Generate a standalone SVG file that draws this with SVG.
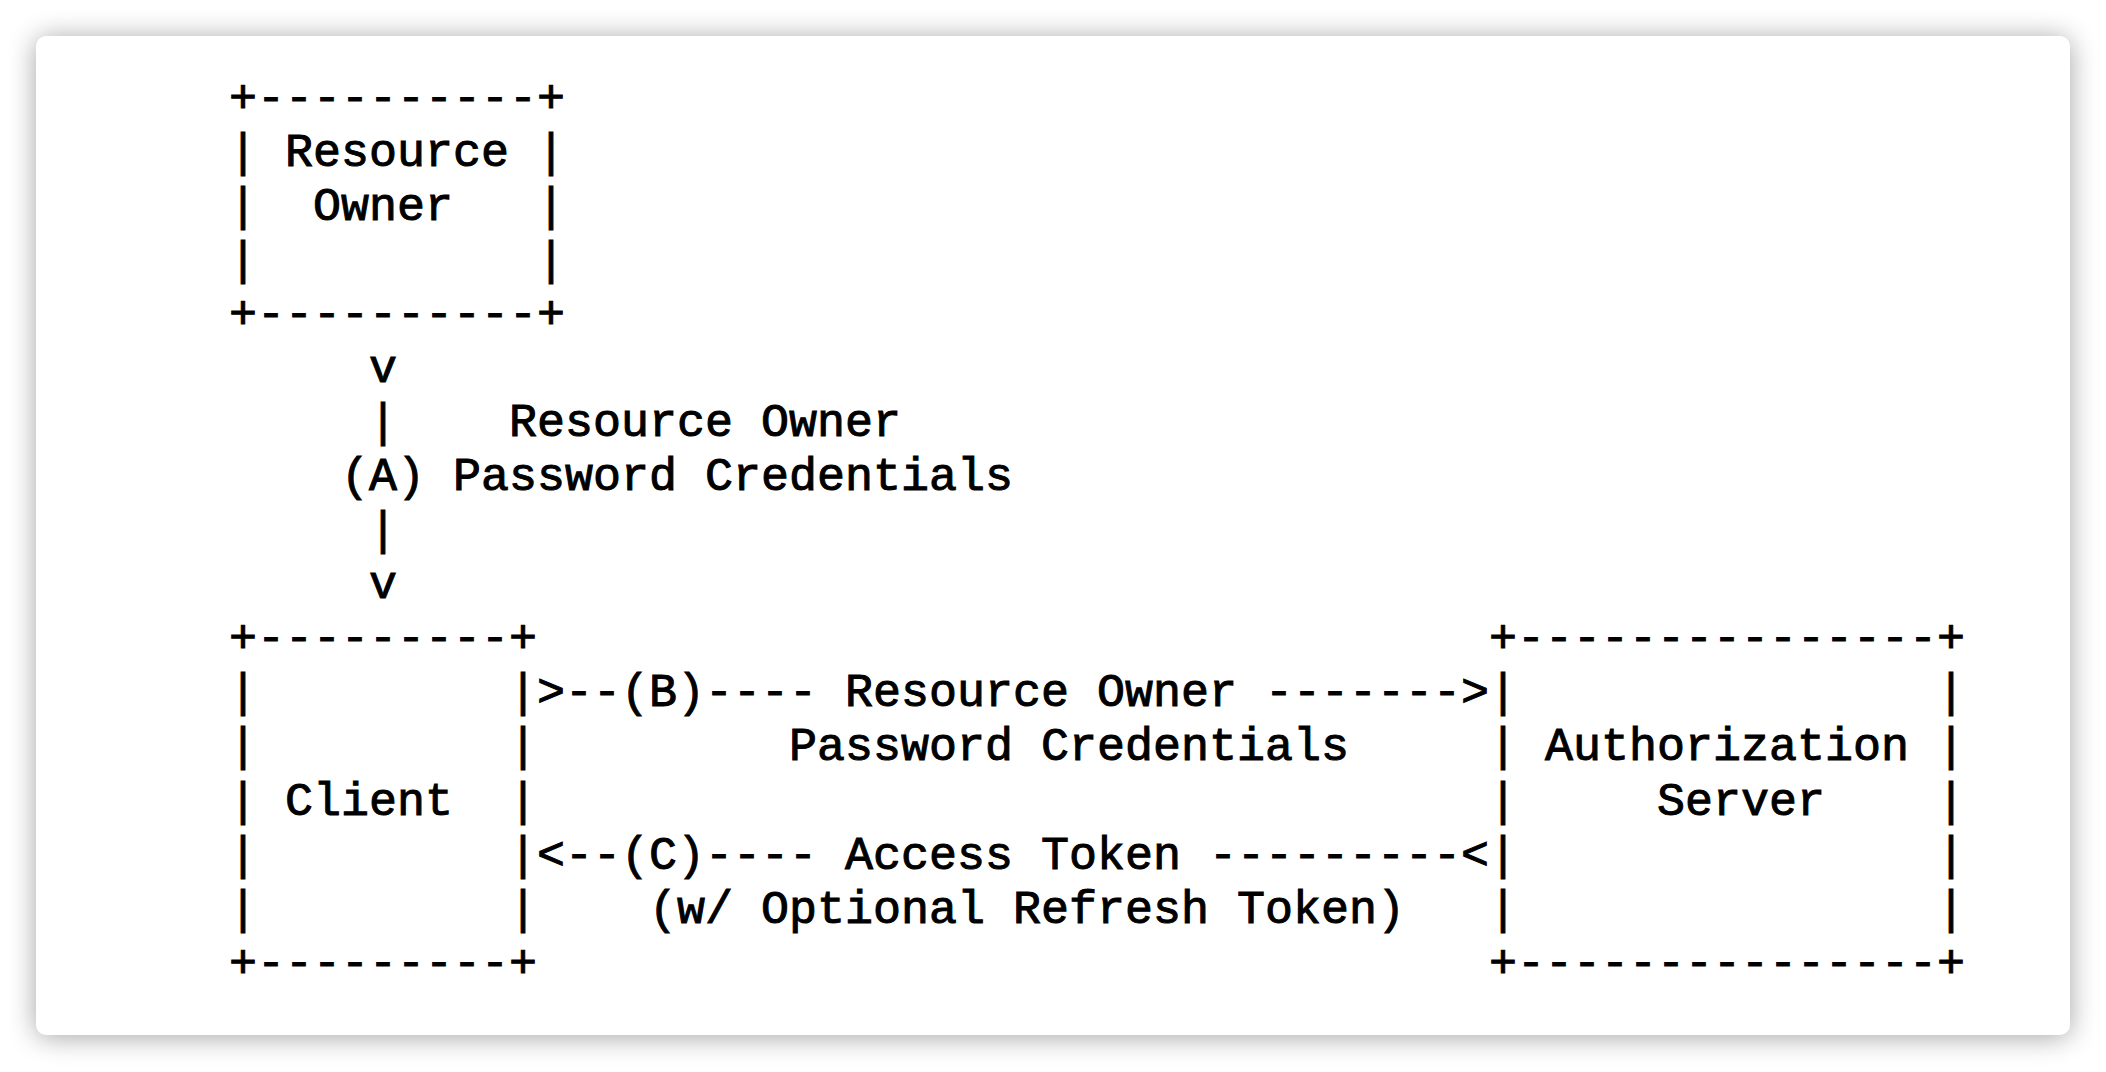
<svg xmlns="http://www.w3.org/2000/svg" width="2106" height="1072" viewBox="0 0 2106 1072">
  <style>
    .t { font-family: "Liberation Mono", "Courier New", monospace; font-size: 46.67px; fill: #000; stroke: #000; stroke-width: 1px; white-space: pre; }
  </style>
  <defs>
    <filter id="shadow" x="-10%" y="-10%" width="120%" height="120%">
      <feGaussianBlur stdDeviation="14"/>
    </filter>
  </defs>
  <rect x="0" y="0" width="2106" height="1072" fill="#ffffff"/>
  <rect x="36" y="38" width="2034" height="999" rx="10" fill="#000" opacity="0.36" filter="url(#shadow)"/>
  <rect x="36" y="36" width="2034" height="999" rx="10" fill="#ffffff"/>

  <g id="resource-owner" transform="translate(0,2.5)">
    <text class="t" xml:space="preserve" x="229" y="109.2">+----------+</text>
    <text class="t" xml:space="preserve" x="229" y="163.3">| Resource |</text>
    <text class="t" xml:space="preserve" x="229" y="217.3">|  Owner   |</text>
    <text class="t" xml:space="preserve" x="229" y="271.4">|          |</text>
    <text class="t" xml:space="preserve" x="229" y="325.4">+----------+</text>
  </g>

  <g id="client" transform="translate(0,2.5)">
    <text class="t" xml:space="preserve" x="229" y="649.8">+---------+</text>
    <text class="t" xml:space="preserve" x="229" y="703.9">|         |</text>
    <text class="t" xml:space="preserve" x="229" y="757.9">|         |</text>
    <text class="t" xml:space="preserve" x="229" y="812.0">| Client  |</text>
    <text class="t" xml:space="preserve" x="229" y="866.0">|         |</text>
    <text class="t" xml:space="preserve" x="229" y="920.1">|         |</text>
    <text class="t" xml:space="preserve" x="229" y="974.2">+---------+</text>
  </g>

  <g id="authorization-server" transform="translate(0,2.5)">
    <text class="t" xml:space="preserve" x="1489" y="649.8">+---------------+</text>
    <text class="t" xml:space="preserve" x="1489" y="703.9">|               |</text>
    <text class="t" xml:space="preserve" x="1489" y="757.9">| Authorization |</text>
    <text class="t" xml:space="preserve" x="1489" y="812.0">|     Server    |</text>
    <text class="t" xml:space="preserve" x="1489" y="866.0">|               |</text>
    <text class="t" xml:space="preserve" x="1489" y="920.1">|               |</text>
    <text class="t" xml:space="preserve" x="1489" y="974.2">+---------------+</text>
  </g>

  <g id="connectors" transform="translate(0,2.5)">
    <g id="flow-a">
      <text class="t" xml:space="preserve" x="369" y="379.5">v</text>
      <text class="t" xml:space="preserve" x="369" y="433.6">|</text>
      <text class="t" xml:space="preserve" x="509" y="433.6">Resource Owner</text>
      <text class="t" xml:space="preserve" x="341" y="487.6">(A)</text>
      <text class="t" xml:space="preserve" x="453" y="487.6">Password Credentials</text>
      <text class="t" xml:space="preserve" x="369" y="541.7">|</text>
      <text class="t" xml:space="preserve" x="369" y="595.7">v</text>
    </g>
    <g id="flow-b">
      <text class="t" xml:space="preserve" x="537" y="703.9">&gt;--(B)---- Resource Owner -------&gt;</text>
      <text class="t" xml:space="preserve" x="789" y="757.9">Password Credentials</text>
    </g>
    <g id="flow-c">
      <text class="t" xml:space="preserve" x="537" y="866.0">&lt;--(C)---- Access Token ---------&lt;</text>
      <text class="t" xml:space="preserve" x="649" y="920.1">(w/ Optional Refresh Token)</text>
    </g>
  </g>
</svg>
